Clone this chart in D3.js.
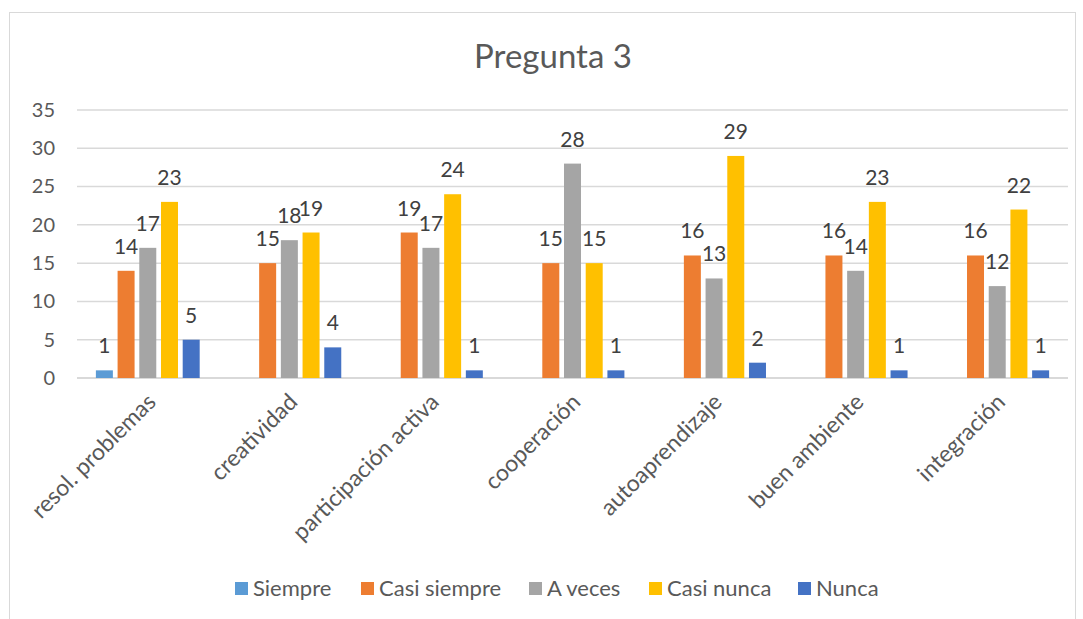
<!DOCTYPE html>
<html>
<head>
<meta charset="utf-8">
<script src="https://cdn.jsdelivr.net/npm/d3@7"></script>
<style>
  body { margin: 0; background: #ffffff; }
</style>
</head>
<body>
<div id="chart"></div>
<script>
const FONT = "Lato, 'Open Sans', sans-serif";
const COLOR_TEXT = "#595959";
const COLOR_LABEL = "#404040";
const COLOR_GRID = "#d9d9d9";

// data
const categories = ["resol. problemas", "creatividad", "participación activa", "cooperación", "autoaprendizaje", "buen ambiente", "integración"];
const seriesNames = ["Siempre", "Casi siempre", "A veces", "Casi nunca", "Nunca"];
const seriesColors = ["#5B9BD5", "#ED7D31", "#A5A5A5", "#FFC000", "#4472C4"];
const siempre = [1, null, null, null, null, null, null];
const casiSiempre = [14, 15, 19, 15, 16, 16, 16];
const aVeces = [17, 18, 17, 28, 13, 14, 12];
const casiNunca = [23, 19, 24, 15, 29, 23, 22];
const nunca = [5, 4, 1, 1, 2, 1, 1];
const yTicks = [0, 5, 10, 15, 20, 25, 30, 35];
const title = "Pregunta 3";

const seriesValues = [siempre, casiSiempre, aVeces, casiNunca, nunca];

const width = 1083, height = 619;
const plot = { left: 77, right: 1068, top: 110, bottom: 378 };

const svg = d3.select("#chart").append("svg")
    .attr("width", width)
    .attr("height", height)
    .attr("font-family", FONT);

// chart border
svg.append("rect")
    .attr("x", 9.5).attr("y", 12.5)
    .attr("width", 1066).attr("height", 620)
    .attr("fill", "#fff")
    .attr("stroke", "#d9d9d9")
    .attr("stroke-width", 1);

// title
svg.append("text")
    .attr("x", 553).attr("y", 68)
    .attr("text-anchor", "middle")
    .attr("font-size", "33px")
    .attr("fill", COLOR_TEXT)
    .text(title);

// scales
let x0 = d3.scaleBand().domain(categories).range([plot.left, plot.right]).padding(0);
let x1 = d3.scaleBand().domain(seriesNames).range([0, x0.bandwidth()])
    .paddingInner(0.217).paddingOuter(0.87);
let y = d3.scaleLinear().domain([0, 35]).range([plot.bottom, plot.top]);

// grid
svg.append("g").selectAll("line")
    .data(yTicks).enter().append("line")
    .attr("x1", plot.left).attr("x2", plot.right)
    .attr("y1", d => y(d)).attr("y2", d => y(d))
    .attr("stroke", COLOR_GRID)
    .attr("stroke-width", d => d === 0 ? 2 : 1.5);

// y axis labels
svg.append("g")
    .attr("transform", "translate(" + (plot.left - 22) + ",0)")
    .call(d3.axisLeft(y).tickValues(yTicks).tickSize(0).tickPadding(0))
    .call(g => {
        g.select(".domain").remove();
        g.selectAll("text")
            .attr("font-size", "20px")
            .attr("font-family", FONT)
            .attr("fill", COLOR_TEXT);
    });

// bars
let groups = svg.append("g").selectAll("g")
    .data(categories).enter().append("g")
    .attr("transform", d => "translate(" + x0(d) + ",0)");

groups.each(function (cat, ci) {
    let g = d3.select(this);
    seriesNames.forEach((s, si) => {
        let v = seriesValues[si][ci];
        if (v === null) return;
        g.append("rect")
            .attr("x", x1(s))
            .attr("y", y(v))
            .attr("width", x1.bandwidth())
            .attr("height", y(0) - y(v))
            .attr("fill", seriesColors[si]);
        g.append("text")
            .attr("x", x1(s) + x1.bandwidth() / 2)
            .attr("y", y(v) - 17)
            .attr("text-anchor", "middle")
            .attr("font-size", "21px")
            .attr("fill", COLOR_LABEL)
            .text(v);
    });
});

// category labels
svg.append("g").selectAll("text")
    .data(categories).enter().append("text")
    .attr("transform", d => "translate(" + (x0(d) + x0.bandwidth() / 2 - 2) + "," + (plot.bottom + 14) + ") rotate(-45)")
    .attr("text-anchor", "end")
    .attr("dy", "0.7em")
    .attr("font-size", "23px")
    .attr("fill", COLOR_TEXT)
    .text(d => d);

// legend
const legendX = [235, 361, 529, 649, 798];
let legend = svg.append("g").selectAll("g")
    .data(seriesNames).enter().append("g")
    .attr("transform", (d, i) => "translate(" + legendX[i] + ",582)");
legend.append("rect")
    .attr("width", 13).attr("height", 13)
    .attr("fill", (d, i) => seriesColors[i]);
legend.append("text")
    .attr("x", 18).attr("y", 14)
    .attr("font-size", "22px")
    .attr("fill", COLOR_TEXT)
    .text(d => d);
</script>
</body>
</html>
